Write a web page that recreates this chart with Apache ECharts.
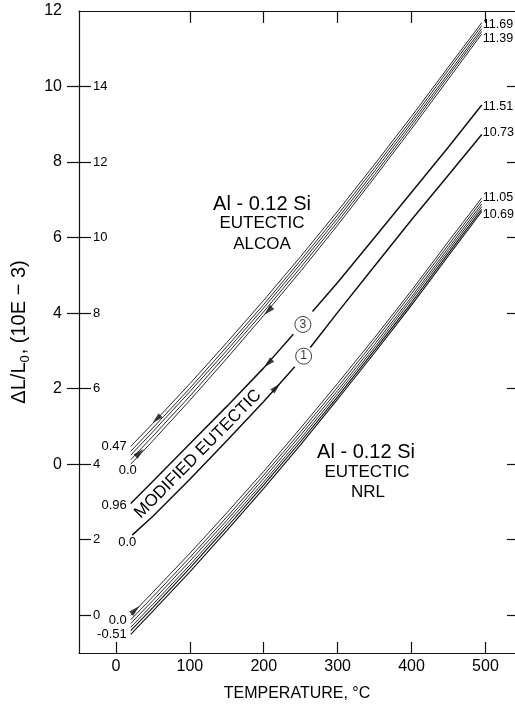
<!DOCTYPE html>
<html><head><meta charset="utf-8">
<script src="https://cdn.jsdelivr.net/npm/echarts@6/dist/echarts.min.js"></script>
<style>html,body{margin:0;padding:0;background:#fff}#c{width:515px;height:707px}</style>
</head><body><div id="c"></div>
<script>
// ---- data (temperature in °C, ΔL/L0 in 10E-3) ----
const temps = [20, 50, 100, 150, 200, 250, 300, 350, 400, 450, 495];

// Al-0.12Si eutectic ALCOA (outer scale)
const alcoa1 = [0.47, 1.08, 2.13, 3.22, 4.34, 5.50, 6.70, 7.94, 9.21, 10.52, 11.69];
const alcoa2 = [0.34, 0.96, 2.01, 3.11, 4.23, 5.40, 6.60, 7.85, 9.12, 10.44, 11.61];
const alcoa3 = [0.24, 0.86, 1.92, 3.01, 4.14, 5.31, 6.51, 7.76, 9.04, 10.35, 11.53];
const alcoa4 = [0.12, 0.74, 1.80, 2.91, 4.04, 5.21, 6.42, 7.67, 8.96, 10.28, 11.46];
const alcoa5 = [0.00, 0.62, 1.69, 2.80, 3.94, 5.11, 6.33, 7.59, 8.88, 10.20, 11.39];

// Modified eutectic, runs 3 and 1 (scale offset by 2)
const mod3Temps = [20, 50, 100, 150, 200, 240, 253, 266, 300, 350, 400, 450, 495];
const mod3Vals  = [0.96, 1.55, 2.54, 3.53, 4.55, 5.44, null, 6.04, 6.81, 8.00, 9.20, 10.40, 11.51];
const mod1Temps = [22, 50, 100, 150, 200, 242, 254, 263, 300, 350, 400, 450, 495];
const mod1Vals  = [0.12, 0.62, 1.60, 2.62, 3.66, 4.58, null, 5.09, 6.02, 7.25, 8.47, 9.66, 10.73];

// Al-0.12Si eutectic NRL (inner scale)
const nrl1 = [0.00, 0.61, 1.64, 2.71, 3.81, 4.96, 6.14, 7.35, 8.60, 9.90, 11.05];
const nrl2 = [-0.12, 0.49, 1.53, 2.60, 3.71, 4.86, 6.04, 7.26, 8.52, 9.81, 10.97];
const nrl3 = [-0.22, 0.39, 1.43, 2.51, 3.62, 4.77, 5.95, 7.17, 8.43, 9.73, 10.89];
const nrl4 = [-0.32, 0.29, 1.33, 2.42, 3.53, 4.68, 5.87, 7.09, 8.36, 9.66, 10.82];
const nrl5 = [-0.41, 0.20, 1.25, 2.33, 3.45, 4.60, 5.79, 7.02, 8.28, 9.59, 10.75];
const nrl6 = [-0.51, 0.11, 1.15, 2.24, 3.36, 4.52, 5.72, 6.95, 8.21, 9.52, 10.69];

// arrows [temperature, value, direction]
const alcoaArrows = [[32, 0.30, 'up'], [55, 1.19, 'down'], [206, 4.06, 'down']];
const modArrows = [[206, 4.67, 'down'], [217, 4.03, 'up']];
const nrlArrows = [[26, 0.14, 'up']];
// run markers [temperature, value, run]
const runMarks = [[253, 5.70, '3'], [254, 4.86, '1']];

// axis ticks / labels
const xTicks = [0, 100, 200, 300, 400, 500];
const xTopTicks = [100, 200, 300, 400, 500];
const outerTicks = [0, 2, 4, 6, 8, 10];
const outerLabels = [0, 2, 4, 6, 8, 10, 12];
const innerTicks = [0, 2, 4, 6, 8, 10, 12, 14];

// ---- chart ----
const FONT = "'Liberation Sans', Arial, Helvetica, sans-serif";
const INK = '#111';

function lineSeries(ts, vals, yIdx, width, startLbl, startOpt, endLbl, endOpt) {
  const data = ts.map((t, i) => {
    const item = { value: [t, vals[i]] };
    if (i === 0 && startLbl) item.label = Object.assign({ show: true, formatter: startLbl }, startOpt);
    if (i === ts.length - 1 && endLbl) item.label = Object.assign({ show: true, formatter: endLbl }, endOpt);
    return item;
  });
  return {
    type: 'line', xAxisIndex: 0, yAxisIndex: yIdx, data,
    showSymbol: true, symbol: 'circle', symbolSize: 0, connectNulls: false,
    lineStyle: { color: INK, width }, itemStyle: { color: INK },
    label: { show: false, fontSize: 13, color: '#000', fontFamily: FONT },
    emphasis: { disabled: true }, silent: true, z: 2
  };
}
function arrowSeries(arr, yIdx) {
  return {
    type: 'scatter', xAxisIndex: 0, yAxisIndex: yIdx, symbol: 'triangle', symbolSize: [6, 11],
    data: arr.map(a => ({ value: [a[0], a[1]], symbolRotate: a[2] === 'up' ? -46 : 134 })),
    itemStyle: { color: INK }, silent: true, z: 4, emphasis: { disabled: true }
  };
}

const L = { position: 'left', distance: 4 };
const R = { position: 'right', distance: 1, fontSize: 12.5 };
const series = [
  lineSeries(temps, alcoa1, 0, 0.9, '0.47', L, '11.69', Object.assign({ offset: [0, 2] }, R)),
  lineSeries(temps, alcoa2, 0, 0.9),
  lineSeries(temps, alcoa3, 0, 0.9),
  lineSeries(temps, alcoa4, 0, 0.9),
  lineSeries(temps, alcoa5, 0, 0.9, '0.0', { position: 'bottom', distance: 0, offset: [-3, 0] }, '11.39', Object.assign({ offset: [0, 5] }, R)),
  lineSeries(mod3Temps, mod3Vals, 3, 1.5, '0.96', Object.assign({ offset: [0, 2] }, L), '11.51', Object.assign({ offset: [0, 2] }, R)),
  lineSeries(mod1Temps, mod1Vals, 3, 1.5, '0.0', { position: 'bottom', distance: 1, offset: [-5, 0] }, '10.73', Object.assign({ offset: [0, -2] }, R)),
  lineSeries(temps, nrl1, 1, 0.9, '0.0', Object.assign({ offset: [0, 5] }, L), '11.05', R),
  lineSeries(temps, nrl2, 1, 0.9),
  lineSeries(temps, nrl3, 1, 0.9),
  lineSeries(temps, nrl4, 1, 0.9),
  lineSeries(temps, nrl5, 1, 1.1),
  lineSeries(temps, nrl6, 1, 1.1, '-0.51', L, '10.69', Object.assign({ offset: [0, 3] }, R)),
  arrowSeries(alcoaArrows, 0),
  arrowSeries(modArrows, 3),
  arrowSeries(nrlArrows, 1),
  {
    type: 'scatter', xAxisIndex: 0, yAxisIndex: 3, symbol: 'circle', symbolSize: 16,
    data: runMarks.map(r => ({ value: [r[0], r[1]], name: r[2] })),
    itemStyle: { color: '#fff', borderColor: INK, borderWidth: 1 },
    label: { show: true, position: 'inside', formatter: p => p.name, fontSize: 12, color: '#000', fontFamily: FONT },
    silent: true, z: 5, emphasis: { disabled: true }
  }
];

const axisLineStyle = { show: true, onZero: false, lineStyle: { color: INK, width: 1.2 } };
const chart = echarts.init(document.getElementById('c'), null, { renderer: 'canvas' });
chart.setOption({
  animation: false,
  backgroundColor: '#fff',
  textStyle: { fontFamily: FONT },
  grid: { left: 79, right: 0, top: 11, bottom: 54, containLabel: false },
  xAxis: [
    {
      type: 'value', position: 'bottom', min: -50, max: 540,
      axisLine: axisLineStyle,
      axisTick: { show: true, inside: true, length: 11, customValues: xTicks, lineStyle: { color: INK, width: 1.2 } },
      axisLabel: { show: true, customValues: xTicks, margin: 6, fontSize: 16, color: '#000', fontFamily: FONT },
      splitLine: { show: false },
      name: 'TEMPERATURE, °C', nameLocation: 'middle', nameGap: 33,
      nameTextStyle: { fontSize: 16, color: '#000', fontFamily: FONT }
    },
    {
      type: 'value', position: 'top', min: -50, max: 540,
      axisLine: axisLineStyle,
      axisTick: { show: true, inside: true, length: 12, customValues: xTopTicks, lineStyle: { color: INK, width: 1.2 } },
      axisLabel: { show: false }, splitLine: { show: false }
    }
  ],
  yAxis: [
    {
      type: 'value', position: 'left', min: -5, max: 12,
      axisLine: axisLineStyle,
      axisTick: { show: true, inside: false, length: 12, customValues: outerTicks, lineStyle: { color: INK, width: 1.2 } },
      axisLabel: { show: true, customValues: outerLabels, margin: 17, fontSize: 16, color: '#000', fontFamily: FONT },
      splitLine: { show: false },
      name: '{a|ΔL/L}{s|0}{a|, (10E − 3)}', nameLocation: 'middle', nameGap: 47,
      nameTextStyle: {
        color: '#000', fontFamily: FONT,
        rich: {
          a: { fontSize: 20, color: '#000', fontFamily: FONT, lineHeight: 26 },
          s: { fontSize: 13, color: '#000', fontFamily: FONT, verticalAlign: 'bottom', lineHeight: 26, padding: [0, 1, 0, 0] }
        }
      }
    },
    {
      type: 'value', position: 'left', min: -1, max: 16,
      axisLine: { show: false, onZero: false },
      axisTick: { show: true, inside: true, length: 12, customValues: innerTicks, lineStyle: { color: INK, width: 1.2 } },
      axisLabel: { show: true, inside: true, customValues: innerTicks, margin: 14, fontSize: 13, color: '#000', fontFamily: FONT },
      splitLine: { show: false }
    },
    {
      type: 'value', position: 'right', min: -1, max: 16,
      axisLine: { show: false, onZero: false },
      axisTick: { show: true, inside: true, length: 8, customValues: innerTicks, lineStyle: { color: INK, width: 1.2 } },
      axisLabel: { show: false }, splitLine: { show: false }
    },
    { type: 'value', show: false, min: -3, max: 14, axisLine: { onZero: false }, splitLine: { show: false } }
  ],
  graphic: [
    { type: 'text', x: 262, y: 204, silent: true, style: { text: 'Al - 0.12 Si', fontSize: 20, fontFamily: FONT, fill: '#000', textAlign: 'center', verticalAlign: 'middle' } },
    { type: 'text', x: 262, y: 223, silent: true, style: { text: 'EUTECTIC', fontSize: 17, fontFamily: FONT, fill: '#000', textAlign: 'center', verticalAlign: 'middle' } },
    { type: 'text', x: 262, y: 244, silent: true, style: { text: 'ALCOA', fontSize: 17, fontFamily: FONT, fill: '#000', textAlign: 'center', verticalAlign: 'middle' } },
    { type: 'text', x: 366, y: 452, silent: true, style: { text: 'Al - 0.12 Si', fontSize: 20, fontFamily: FONT, fill: '#000', textAlign: 'center', verticalAlign: 'middle' } },
    { type: 'text', x: 367, y: 472, silent: true, style: { text: 'EUTECTIC', fontSize: 17, fontFamily: FONT, fill: '#000', textAlign: 'center', verticalAlign: 'middle' } },
    { type: 'text', x: 368, y: 492, silent: true, style: { text: 'NRL', fontSize: 17, fontFamily: FONT, fill: '#000', textAlign: 'center', verticalAlign: 'middle' } },
    { type: 'text', x: 198, y: 454, rotation: 45.5 * Math.PI / 180, silent: true, style: { text: 'MODIFIED EUTECTIC', fontSize: 17, fontFamily: FONT, fill: '#000', textAlign: 'center', verticalAlign: 'middle' } }
  ],
  series
});
</script></body></html>
